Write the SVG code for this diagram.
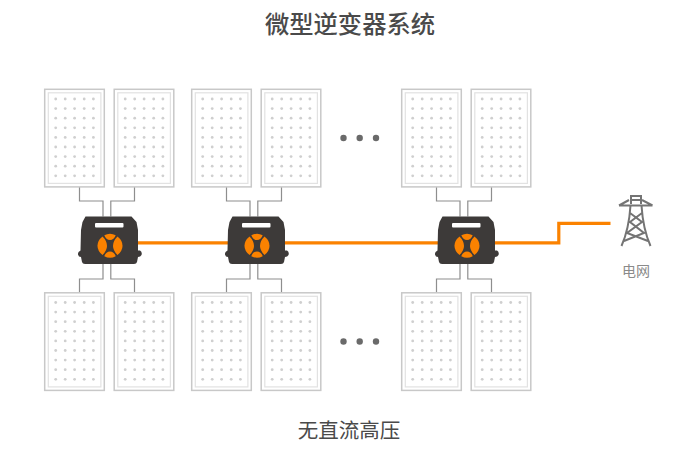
<svg xmlns="http://www.w3.org/2000/svg" xmlns:xlink="http://www.w3.org/1999/xlink" width="700" height="458" viewBox="0 0 700 458">
<style>
.o{fill:#fff;stroke:#c8c8c8;stroke-width:1.5}
.i{fill:#fff;stroke:#e2e2e2;stroke-width:1.2}
.d{fill:#cfcfcf}
.w{fill:none;stroke:#8e8e8e;stroke-width:1.2}
.t{font-family:"Noto Sans CJK SC","Liberation Sans",sans-serif;text-anchor:middle}
.tw{fill:none;stroke:#747474;stroke-width:2}
</style>
<defs>
<g id="r"><circle cx="55.7" r="1.4" class="d"/><circle cx="65.2" r="1.4" class="d"/><circle cx="74.6" r="1.4" class="d"/><circle cx="84.2" r="1.4" class="d"/><circle cx="93.4" r="1.4" class="d"/></g>
<g id="panel">
<rect x="44.7" y="89.3" width="59.6" height="97.6" class="o"/>
<rect x="48.3" y="92.8" width="52.6" height="90.6" class="i"/>
<use xlink:href="#r" y="99"/><use xlink:href="#r" y="108.6"/><use xlink:href="#r" y="118.2"/><use xlink:href="#r" y="127.8"/><use xlink:href="#r" y="137.4"/><use xlink:href="#r" y="147"/><use xlink:href="#r" y="156.6"/><use xlink:href="#r" y="166.2"/><use xlink:href="#r" y="175.8"/>
</g>
<g id="pair"><use xlink:href="#panel"/><use xlink:href="#panel" x="69.5"/></g>
<g id="inv">
<path d="M85.5 216.500H131.500L136.500 222L138 230V250.500H140Q142.500 252 141.500 255Q140.500 257 138 257L137 262Q136.500 264 134 264H85Q82.500 264 82 262L81 257Q78.500 257 78 254.500Q77.500 252 80.500 250.500L81 230L82.500 222Z" fill="#3d3a39"/>
<rect x="95" y="223" width="28.500" height="4.500" rx="1" fill="#fff"/>
<g fill="#fb8200">
<path d="M102.500 236.500Q97.500 240.500 97.500 245.700Q97.500 251 102.500 255Q107 250.500 107 245.700Q107 241 102.500 236.500Z"/>
<path d="M117.500 236.500Q122.500 240.500 122.500 245.700Q122.500 251 117.500 255Q113 250.500 113 245.700Q113 241 117.500 236.500Z"/>
<path d="M104.300 235.300Q110 232.300 115.700 235.300Q114 240 110 240Q106 240 104.300 235.300Z"/>
<path d="M104.300 256.200Q110 259.200 115.700 256.200Q114 251.500 110 251.500Q106 251.500 104.300 256.200Z"/>
</g>
</g>
<g id="wires"><path class="w" d="M79.500 187V201H103V216.500M134.500 187V201H110.800V216.500M103 264V279H79.500V292.500M110.800 264V279H134.500V292.500"/></g>
</defs>
<rect width="700" height="458" fill="#fff"/>
<g id="connectors">
<use xlink:href="#wires"/><use xlink:href="#wires" x="147"/><use xlink:href="#wires" x="357"/>
<path d="M135 242.800H558.800V223.300H610.500" fill="none" stroke="#fb8200" stroke-width="3.200"/>
</g>
<g id="panels-top-1"><use xlink:href="#pair"/></g>
<g id="panels-top-2"><use xlink:href="#pair" x="147"/></g>
<g id="panels-top-3"><use xlink:href="#pair" x="357"/></g>
<g id="panels-bottom-1"><use xlink:href="#pair" y="203.500"/></g>
<g id="panels-bottom-2"><use xlink:href="#pair" x="147" y="203.500"/></g>
<g id="panels-bottom-3"><use xlink:href="#pair" x="357" y="203.500"/></g>
<g id="inverter-1"><use xlink:href="#inv"/></g>
<g id="inverter-2"><use xlink:href="#inv" x="147"/></g>
<g id="inverter-3"><use xlink:href="#inv" x="357"/></g>
<g id="dots-top" fill="#6a6a6a"><circle cx="343.500" cy="138" r="3.200"/><circle cx="359.700" cy="138" r="3.200"/><circle cx="376" cy="138" r="3.200"/></g>
<g id="dots-bottom" fill="#6a6a6a"><circle cx="343.500" cy="341.500" r="3.200"/><circle cx="359.700" cy="341.500" r="3.200"/><circle cx="376" cy="341.500" r="3.200"/></g>
<g id="grid">
<path class="tw" d="M631 204V196H641V204M631 200H641M619 205.500L629 200M652.500 205.500L642 200M619 205.500H652.500M630.500 205.500Q629 229 621.500 246M641.500 205.500Q643 229 650.500 246M630 213L642 222L627 233L648 241M642 213L630 222L644 233L624 241"/>
<text class="t" x="636" y="275.500" font-size="14" fill="#8a8a8a">电网</text>
</g>
<text class="t" x="350" y="32.500" font-size="24.300" font-weight="500" fill="#4a4a4a">微型逆变器系统</text>
<text class="t" x="349" y="437.500" font-size="20.500" fill="#4a4a4a">无直流高压</text>
</svg>
